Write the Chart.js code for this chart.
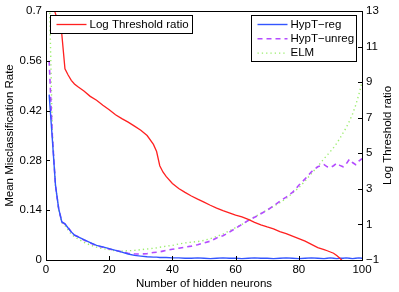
<!DOCTYPE html>
<html>
<head>
<meta charset="utf-8">
<script src="https://cdn.jsdelivr.net/npm/chart.js@4.4.0/dist/chart.umd.min.js"></script>
<style>
  html, body { margin: 0; padding: 0; background: #fff; }
</style>
</head>
<body>
<canvas id="chart" width="399" height="292"></canvas>
<script>
// x values (number of hidden neurons)
const neurons = [1, 2, 3, 4, 5, 6, 7, 8, 9, 10,
  12, 14, 16, 18, 20, 22, 24, 26, 28, 30,
  32, 34, 35, 36, 37, 38, 40, 42, 44, 46,
  48, 50, 52, 54, 56, 58, 60, 62, 64, 66,
  68, 70, 72, 74, 76, 78, 80, 82, 84, 86,
  88, 89, 90, 91, 92, 93, 94, 95, 96, 97,
  98, 99, 100];

// mean misclassification rate (left axis)
const hyptReg = [0.465, 0.34, 0.21, 0.145, 0.107, 0.102, 0.090, 0.079, 0.070, 0.066,
  0.057, 0.049, 0.041, 0.037, 0.032, 0.027, 0.022, 0.017, 0.013, 0.011,
  0.009, 0.008, 0.008, 0.007, 0.007, 0.007, 0.006, 0.006, 0.005, 0.005,
  0.006, 0.005, 0.004, 0.005, 0.006, 0.005, 0.005, 0.004, 0.005, 0.006,
  0.005, 0.005, 0.004, 0.005, 0.006, 0.005, 0.004, 0.005, 0.006, 0.005,
  0.004, 0.005, 0.006, 0.005, 0.004, 0.005, 0.005, 0.006, 0.005, 0.004,
  0.005, 0.006, 0.005];

const hyptUnreg = [0.56, 0.35, 0.21, 0.145, 0.107, 0.101, 0.091, 0.079, 0.070, 0.066,
  0.056, 0.048, 0.040, 0.036, 0.031, 0.027, 0.023, 0.019, 0.017, 0.017,
  0.018, 0.021, 0.022, 0.023, 0.025, 0.027, 0.030, 0.033, 0.036, 0.039,
  0.043, 0.048, 0.053, 0.062, 0.068, 0.078, 0.089, 0.100, 0.111, 0.120,
  0.130, 0.140, 0.152, 0.165, 0.177, 0.190, 0.210, 0.228, 0.248, 0.262,
  0.268, 0.262, 0.260, 0.265, 0.272, 0.266, 0.262, 0.270, 0.283, 0.274,
  0.268, 0.278, 0.285];

const elm = [0.78, 0.36, 0.21, 0.14, 0.105, 0.097, 0.084, 0.073, 0.065, 0.060,
  0.050, 0.042, 0.036, 0.032, 0.029, 0.026, 0.025, 0.026, 0.027, 0.029,
  0.031, 0.033, 0.034, 0.036, 0.037, 0.039, 0.041, 0.045, 0.048, 0.050,
  0.052, 0.055, 0.060, 0.066, 0.073, 0.082, 0.091, 0.100, 0.111, 0.121,
  0.131, 0.141, 0.151, 0.161, 0.173, 0.188, 0.203, 0.222, 0.243, 0.263,
  0.285, 0.295, 0.305, 0.316, 0.328, 0.342, 0.357, 0.372, 0.39, 0.41,
  0.435, 0.465, 0.50];

// log threshold ratio (right axis)
const logThreshold = [16, 13.4, 12.85, 12.3, 11.7, 9.75, 9.4, 9.1, 8.9, 8.75,
  8.5, 8.2, 7.98, 7.7, 7.45, 7.17, 6.95, 6.75, 6.53, 6.3,
  6.0, 5.5, 5.1, 4.3, 3.95, 3.7, 3.3, 3.02, 2.8, 2.6,
  2.42, 2.25, 2.08, 1.92, 1.78, 1.65, 1.52, 1.42, 1.28, 1.12,
  0.98, 0.86, 0.75, 0.6, 0.48, 0.34, 0.2, 0.06, -0.12, -0.3,
  -0.42, -0.48, -0.55, -0.62, -0.75, -0.9, -1.08, -1.3, -1.5, -1.7,
  -1.9, -2.1, -2.3];

const xTicks = [0, 20, 40, 60, 80, 100];
const rateTicks = [0, 0.14, 0.28, 0.42, 0.56, 0.7];
const ratioTicks = [-1, 1, 3, 5, 7, 9, 11, 13];

const FAMILY = '"Liberation Sans", Arial, Helvetica, sans-serif';
const FONT = { family: FAMILY, size: 11.5 };

const pts = ys => neurons.map((n, i) => ({ x: n, y: ys[i] }));
const fixTicks = list => scale => { scale.ticks = list.map(v => ({ value: v })); };

function drawBox(ctx, x, y, w, h, items) {
  ctx.save();
  ctx.fillStyle = '#fff';
  ctx.fillRect(x, y, w, h);
  ctx.strokeStyle = '#000';
  ctx.lineWidth = 1;
  ctx.strokeRect(x, y, w, h);
  ctx.font = '11.5px ' + FAMILY;
  ctx.textBaseline = 'middle';
  items.forEach((d, i) => {
    const cy = y + 9 + i * 14.3;
    ctx.strokeStyle = d.borderColor;
    ctx.lineWidth = d.borderWidth;
    ctx.setLineDash(d.borderDash || []);
    ctx.beginPath();
    ctx.moveTo(x + 6, cy);
    ctx.lineTo(x + 36, cy);
    ctx.stroke();
    ctx.setLineDash([]);
    ctx.fillStyle = '#000';
    ctx.fillText(d.label, x + 39, cy);
  });
  ctx.restore();
}

// axes box, inward ticks, right title and the two legend boxes
const decor = {
  id: 'decor',
  afterDraw(chart) {
    const { ctx, chartArea: a, scales } = chart;
    ctx.save();
    ctx.strokeStyle = '#000';
    ctx.lineWidth = 1;
    ctx.strokeRect(a.left + 0.5, a.top + 0.5, a.right - a.left, a.bottom - a.top);
    ctx.beginPath();
    rateTicks.forEach(v => {
      const y = Math.round(scales.y.getPixelForValue(v)) + 0.5;
      ctx.moveTo(a.left, y); ctx.lineTo(a.left + 4, y);
    });
    ratioTicks.forEach(v => {
      const y = Math.round(scales.y2.getPixelForValue(v)) + 0.5;
      ctx.moveTo(a.right, y); ctx.lineTo(a.right - 4, y);
    });
    xTicks.forEach(v => {
      const x = Math.round(scales.x.getPixelForValue(v)) + 0.5;
      ctx.moveTo(x, a.bottom); ctx.lineTo(x, a.bottom - 4);
    });
    ctx.stroke();

    ctx.fillStyle = '#000';
    ctx.font = '11.5px ' + FAMILY;
    ctx.textAlign = 'center';
    ctx.textBaseline = 'middle';
    ctx.translate(388, (a.top + a.bottom) / 2);
    ctx.rotate(-Math.PI / 2);
    ctx.fillText('Log Threshold ratio', 0, 0);
    ctx.restore();

    const ds = chart.data.datasets;
    drawBox(ctx, 50.5, 15.5, 142, 18, [ds[0]]);
    drawBox(ctx, 251.5, 15.5, 105, 46, [ds[1], ds[2], ds[3]]);
  }
};

new Chart(document.getElementById('chart'), {
  type: 'line',
  data: {
    datasets: [
      { label: 'Log Threshold ratio', data: pts(logThreshold), yAxisID: 'y2',
        borderColor: '#ff2020', borderWidth: 1.3 },
      { label: 'HypT\u2212reg', data: pts(hyptReg), yAxisID: 'y',
        borderColor: '#3355ff', borderWidth: 1.4 },
      { label: 'HypT\u2212unreg', data: pts(hyptUnreg), yAxisID: 'y',
        borderColor: '#b44cff', borderWidth: 1.6, borderDash: [5, 4] },
      { label: 'ELM', data: pts(elm), yAxisID: 'y',
        borderColor: '#9ced6e', borderWidth: 1.4, borderDash: [1.3, 3] }
    ]
  },
  options: {
    responsive: false,
    animation: false,
    devicePixelRatio: 1,
    layout: { padding: { top: 11, left: 0, right: 0, bottom: 0 } },
    elements: { point: { radius: 0 }, line: { tension: 0 } },
    plugins: { legend: { display: false }, tooltip: { enabled: false } },
    scales: {
      x: {
        type: 'linear', position: 'bottom', min: 0, max: 100,
        afterBuildTicks: fixTicks(xTicks),
        afterFit: s => { s.height = 32; },
        grid: { display: false, drawTicks: false },
        border: { display: false },
        ticks: { font: FONT, color: '#000', padding: 3, maxRotation: 0, autoSkip: false },
        title: { display: true, text: 'Number of hidden neurons', font: FONT, color: '#000',
          padding: { top: 0, bottom: 1 } }
      },
      y: {
        position: 'left', min: 0, max: 0.7,
        afterBuildTicks: fixTicks(rateTicks),
        afterFit: s => { s.width = 46; },
        grid: { display: false, drawTicks: false },
        border: { display: false },
        ticks: { font: FONT, color: '#000', padding: 4, callback: v => String(v) },
        title: { display: true, text: 'Mean Misclassification Rate', font: FONT, color: '#000',
          padding: { top: 3, bottom: 0 } }
      },
      y2: {
        position: 'right', min: -1, max: 13,
        afterBuildTicks: fixTicks(ratioTicks),
        afterFit: s => { s.width = 37; },
        grid: { display: false, drawTicks: false },
        border: { display: false },
        ticks: { font: FONT, color: '#000', padding: 4, callback: v => String(v).replace('-', '\u2212') }
      }
    }
  },
  plugins: [decor]
});
</script>
</body>
</html>
